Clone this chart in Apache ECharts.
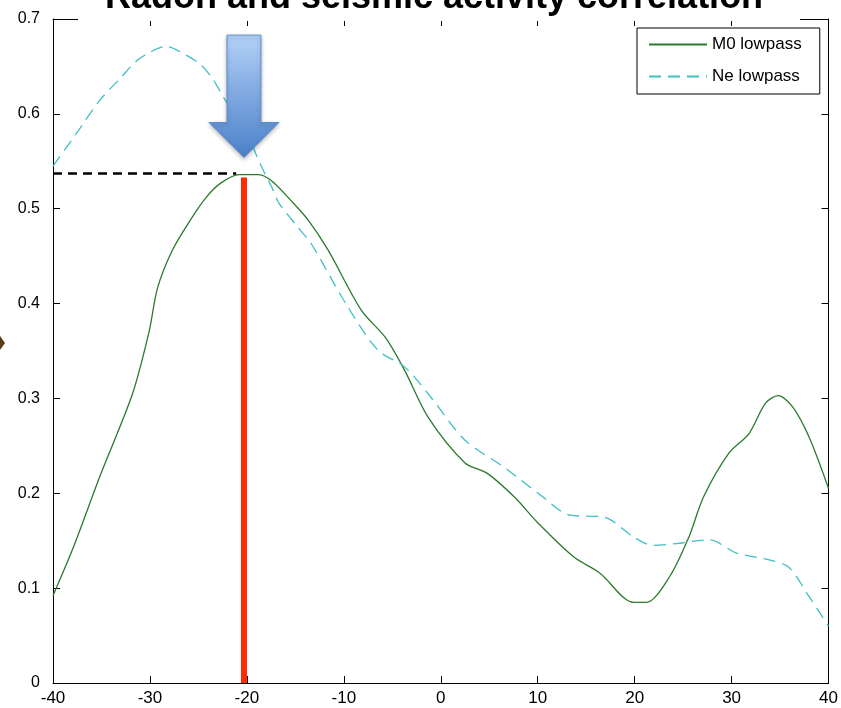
<!DOCTYPE html>
<html>
<head>
<meta charset="utf-8">
<script src="https://cdn.jsdelivr.net/npm/echarts@6/dist/echarts.min.js"></script>
<style>html,body{margin:0;padding:0;background:#fff;}#c{width:841px;height:708px;}</style>
</head>
<body>
<div id="c"></div>
<script>
// ---- data ----
var titleText = 'Radon and seismic activity correlation';
var seriesNames = ['M0 lowpass', 'Ne lowpass'];
var xTicks = [-40, -30, -20, -10, 0, 10, 20, 30, 40];
var yTicks = [0, 0.1, 0.2, 0.3, 0.4, 0.5, 0.6, 0.7];

var m0X = [-40, -37.9, -35.2, -31.8, -30.1, -29.2, -27.7, -25.9, -24.2, -22.7, -20.8, -18.8, -17.4, -15.4, -13.6, -11.6, -8.2, -5.7, -3.7, -1.3, 2.5, 4.8, 7.6, 10, 13.7, 16.4, 19.9, 21.2, 23.6, 25.6, 27.1, 29.7, 31.8, 33.5, 34.8, 36.3, 38, 40];
var m0Y = [0.092, 0.143, 0.217, 0.305, 0.37, 0.417, 0.456, 0.487, 0.512, 0.527, 0.536, 0.536, 0.529, 0.508, 0.487, 0.456, 0.393, 0.364, 0.329, 0.28, 0.232, 0.221, 0.196, 0.169, 0.133, 0.116, 0.085, 0.085, 0.112, 0.154, 0.196, 0.242, 0.263, 0.295, 0.303, 0.291, 0.259, 0.205];

var neX = [-40, -37.2, -35.2, -33.1, -31.1, -28.3, -27, -24.9, -23.6, -22.2, -20, -18.8, -17.4, -16.7, -14.7, -13.3, -9.8, -6.5, -3.7, -1, 2.5, 6.6, 10.3, 13.3, 16.8, 19.9, 21.9, 24.3, 27.7, 30.5, 33.8, 35.9, 38, 40];
var neY = [0.545, 0.585, 0.614, 0.637, 0.658, 0.671, 0.666, 0.653, 0.638, 0.614, 0.58, 0.551, 0.522, 0.506, 0.48, 0.462, 0.4, 0.351, 0.333, 0.301, 0.256, 0.227, 0.198, 0.177, 0.175, 0.154, 0.145, 0.147, 0.151, 0.137, 0.13, 0.122, 0.091, 0.06];

// annotation values
var peakX = -20.3;          // red vertical marker
var peakY = 0.533;
var levelY = 0.537;         // black dashed level
var levelEndX = -21.1;
var arrowTipY = 0.554;
var arrowTopY = 0.683;

function pairs(xs, ys) { return xs.map(function (x, i) { return [x, ys[i]]; }); }

var narrow = "'Liberation Sans Narrow', 'Liberation Sans', Arial, sans-serif";
var chart = echarts.init(document.getElementById('c'), null, {renderer: 'canvas'});

function axisCommon() {
  return {
    axisLine: {show: true, onZero: false, lineStyle: {color: '#000', width: 1}},
    axisTick: {show: true, inside: true, length: 7, lineStyle: {color: '#000'}},
    splitLine: {show: false}
  };
}

var option = {
  backgroundColor: '#fff',
  animation: false,
  grid: {left: 53, right: 8, top: 19, bottom: 25, containLabel: false},
  xAxis: [
    Object.assign({type: 'value', position: 'bottom', min: xTicks[0], max: xTicks[xTicks.length - 1], interval: 10,
      axisLabel: {color: '#000', fontFamily: narrow, fontSize: 17, margin: 7}}, axisCommon()),
    Object.assign({type: 'value', position: 'top', min: xTicks[0], max: xTicks[xTicks.length - 1], interval: 10,
      axisLabel: {show: false}}, axisCommon())
  ],
  yAxis: [
    Object.assign({type: 'value', position: 'left', min: yTicks[0], max: yTicks[yTicks.length - 1], interval: 0.1,
      axisLabel: {color: '#000', fontFamily: narrow, fontSize: 16, margin: 13}}, axisCommon()),
    Object.assign({type: 'value', position: 'right', min: yTicks[0], max: yTicks[yTicks.length - 1], interval: 0.1,
      axisLabel: {show: false}}, axisCommon())
  ],
  legend: {
    data: seriesNames,
    orient: 'vertical',
    left: 637, top: 28,
    backgroundColor: '#fff',
    borderColor: '#000', borderWidth: 1, borderRadius: 0,
    padding: [8, 18, 9, 11],
    itemWidth: 58, itemHeight: 14, itemGap: 15,
    itemStyle: {opacity: 0},
    textStyle: {color: '#000', fontFamily: narrow, fontSize: 17},
    z: 10
  },
  series: [
    {
      name: seriesNames[0], type: 'line', data: pairs(m0X, m0Y), smooth: 0.3,
      symbol: 'none', lineStyle: {color: '#2b7a2b', width: 1.3}, itemStyle: {color: '#2b7a2b'}, z: 3
    },
    {
      name: seriesNames[1], type: 'line', data: pairs(neX, neY), smooth: 0.3,
      symbol: 'none', lineStyle: {color: '#3fbfc6', width: 1.3, type: [12, 7]}, itemStyle: {color: '#3fbfc6'}, z: 3
    },
    {
      name: 'level', type: 'line', data: [[xTicks[0], levelY], [levelEndX, levelY]],
      symbol: 'none', lineStyle: {color: '#000', width: 2.5, type: [9, 6]}, z: 4, silent: true
    },
    {
      name: 'peak', type: 'line', data: [[peakX, 0], [peakX, peakY]],
      symbol: 'none', lineStyle: {color: '#ff2a00', width: 6, cap: 'butt'}, z: 6, silent: true
    }
  ]
};
chart.setOption(option);

// annotation graphics placed through the axes
var tipPx = chart.convertToPixel({xAxisIndex: 0, yAxisIndex: 0}, [peakX, arrowTipY]);
var topPx = chart.convertToPixel({xAxisIndex: 0, yAxisIndex: 0}, [peakX, arrowTopY]);
var cx = tipPx[0], ty = tipPx[1], shaftTop = topPx[1];
var shaftW = 17, headW = 35, headH = 35;

chart.setOption({
  graphic: [
    {
      type: 'rect', z: 20, shape: {x: 78, y: 0, width: 722, height: 21},
      style: {fill: '#fff'}
    },
    {
      type: 'text', z: 21, style: {
        text: titleText, x: 434, y: 16, align: 'center', verticalAlign: 'bottom',
        font: "bold 36px 'Liberation Sans', Arial, sans-serif", fill: '#000'
      }
    },
    {
      type: 'polygon', z: 22,
      shape: {points: [
        [cx - shaftW, shaftTop], [cx + shaftW, shaftTop], [cx + shaftW, ty - headH],
        [cx + headW, ty - headH], [cx, ty], [cx - headW, ty - headH], [cx - shaftW, ty - headH]
      ]},
      style: {
        fill: new echarts.graphic.LinearGradient(0, 0, 0, 1, [
          {offset: 0, color: '#b3d1f7'}, {offset: 1, color: '#4a80c9'}
        ]),
        stroke: '#5b8dcc', lineWidth: 1,
        shadowBlur: 4, shadowColor: 'rgba(0,0,0,0.25)', shadowOffsetY: 2
      }
    },
    {
      type: 'polygon', z: 22,
      shape: {points: [[0, 336], [5, 343], [0, 350]]},
      style: {fill: '#5a3a10'}
    }
  ]
});
</script>
</body>
</html>
